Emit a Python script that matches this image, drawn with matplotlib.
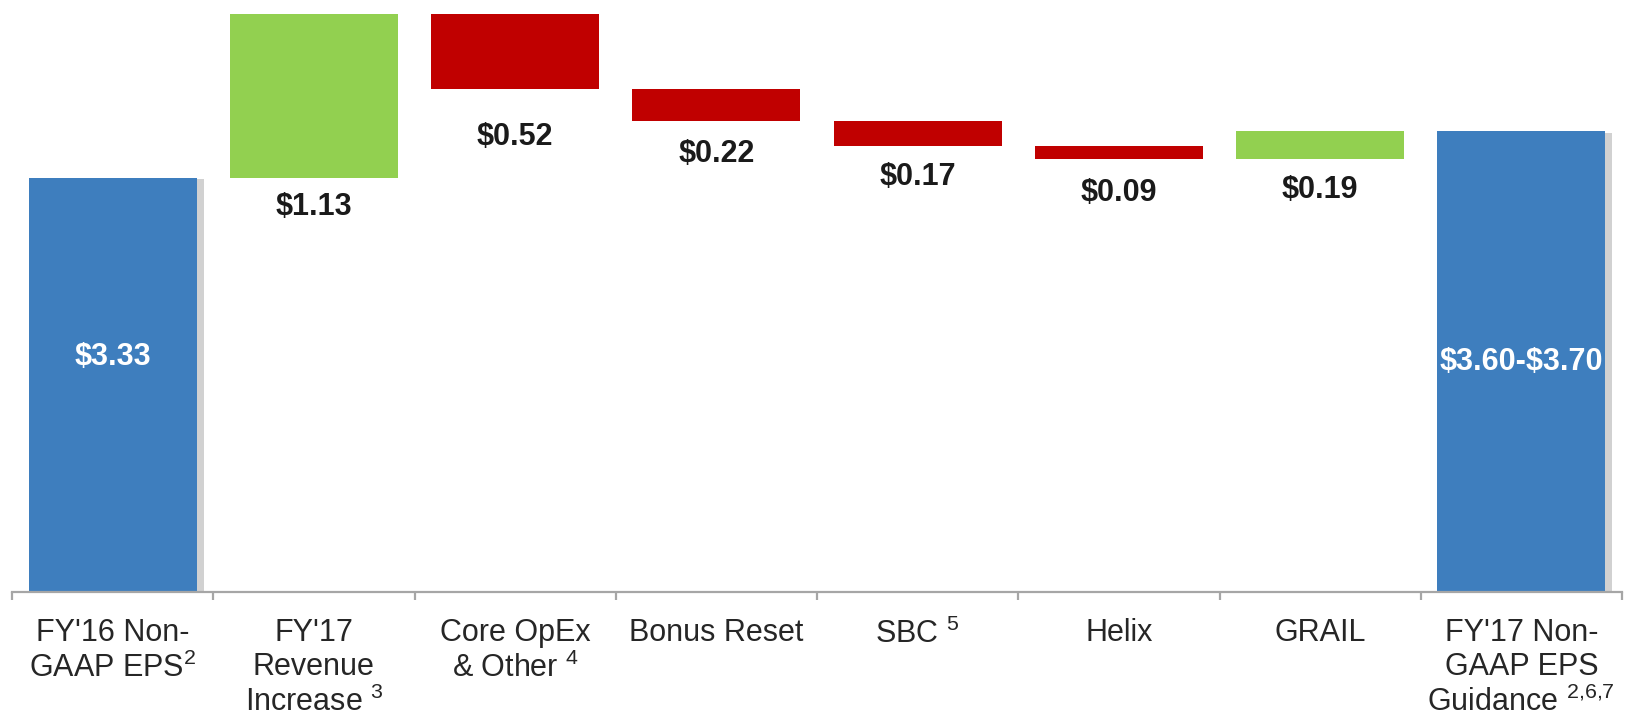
import matplotlib.pyplot as plt
import matplotlib.patheffects as pe
import numpy as np

plt.rcParams['font.family'] = ['Liberation Sans', 'DejaVu Sans']
plt.rcParams['mathtext.fontset'] = 'custom'
plt.rcParams['mathtext.rm'] = 'Liberation Sans'
plt.rcParams['mathtext.it'] = 'Liberation Sans'

categories = [
    "FY'16 Non-\nGAAP EPS$^{2}$",
    "FY'17\nRevenue\nIncrease $^{3}$",
    "Core OpEx\n& Other $^{4}$",
    "Bonus Reset",
    "SBC $^{5}$",
    "Helix",
    "GRAIL",
    "FY'17 Non-\nGAAP EPS\nGuidance $^{2{,}6{,}7}$",
]
start_eps = 3.33
changes = [1.13, -0.52, -0.22, -0.17, -0.09, 0.19]
guidance_low = 3.60
guidance_high = 3.70

blue = '#3E7EBE'
green = '#92D050'
red = '#C00000'
text_col = '#262626'
axis_col = '#A6A6A6'
# gap (pixels) between each change bar and its label
label_gap = [29, 48, 33, 31, 34, 31]

fig = plt.figure(figsize=(16.48, 7.17), dpi=100)
ax = fig.add_axes([12 / 1648, 125 / 717, 1610 / 1648, 592 / 717])

width = 0.835
x = np.arange(len(categories))
end_eps = (guidance_low + guidance_high) / 2

shadow = [pe.SimplePatchShadow(offset=(5, -1), shadow_rgbFace='#8c8c8c', alpha=0.4), pe.Normal()]

# totals
ax.bar(x[0], start_eps, width, color=blue, path_effects=shadow, zorder=2)
ax.bar(x[-1], end_eps, width, color=blue, path_effects=shadow, zorder=2)

# floating changes
level = start_eps
for i, d in enumerate(changes):
    bottom = min(level, level + d)
    ax.bar(x[i + 1], abs(d), width, bottom=bottom, color=green if d > 0 else red, zorder=2)
    ax.annotate(f"${abs(d):.2f}", (x[i + 1], bottom), xytext=(0, -label_gap[i]),
                textcoords='offset pixels', ha='center', va='center',
                fontsize=22, fontweight='bold', color='#1a1a1a', parse_math=False)
    level += d

ax.text(x[0], 0.397, f"${start_eps:.2f}", transform=ax.get_xaxis_transform(),
        ha='center', va='center', fontsize=22, fontweight='bold', color='white', parse_math=False)
ax.text(x[-1], 0.389, f"${guidance_low:.2f}-${guidance_high:.2f}", transform=ax.get_xaxis_transform(),
        ha='center', va='center', fontsize=22, fontweight='bold', color='white', parse_math=False)

ax.set_xlim(-0.5, len(categories) - 0.5)
ax.set_ylim(0.475, 4.46 + 14 / 145)

for s in ['top', 'right', 'left']:
    ax.spines[s].set_visible(False)
ax.spines['bottom'].set_color(axis_col)
ax.spines['bottom'].set_linewidth(1.6)
ax.set_yticks([])

ax.set_xticks(x)
ax.set_xticklabels(categories, fontsize=22, color=text_col, linespacing=1.17)
ax.tick_params(axis='x', which='major', length=0, pad=19)
ax.set_xticks(np.arange(-0.5, len(categories), 1.0), minor=True)
ax.tick_params(axis='x', which='minor', length=6, width=1.6, color=axis_col)

fig.savefig('out.png', dpi=100)
